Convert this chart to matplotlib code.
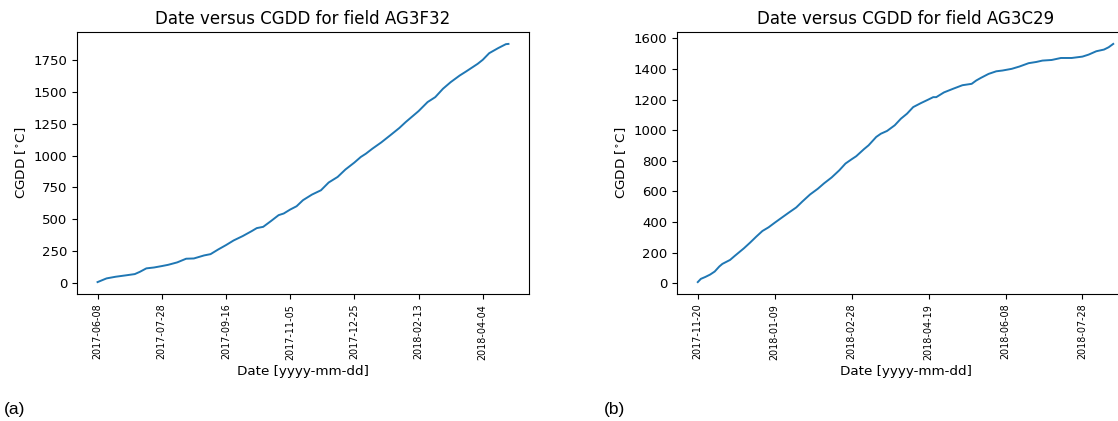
import numpy as np
import matplotlib
matplotlib.use("Agg")
import matplotlib.pyplot as plt
import matplotlib.dates as mdates

# ---- Field AG3F32 (left) ----
a_start = "2017-06-08"
a_days = [0, 7, 14, 22, 29, 33, 38, 44, 50, 55, 62, 69, 75, 83, 88, 94, 100,
          106, 113, 120, 124, 129, 135, 141, 145, 150, 155, 160, 167, 174, 180,
          187, 193, 200, 205, 209, 214, 221, 228, 235, 240, 250, 257, 263, 269,
          275, 282, 287, 296, 300, 305, 312, 318, 320]
a_cgdd = [5, 34, 47, 58, 68, 86, 113, 120, 131, 141, 160, 189, 191, 215, 225,
          262, 296, 333, 367, 406, 430, 440, 485, 532, 545, 576, 602, 650, 694,
          728, 789, 833, 891, 946, 990, 1016, 1055, 1105, 1161, 1218, 1265,
          1351, 1422, 1461, 1527, 1579, 1631, 1663, 1723, 1755, 1807, 1847,
          1878, 1880]
a_ticks = ["2017-06-08", "2017-07-28", "2017-09-16", "2017-11-05",
           "2017-12-25", "2018-02-13", "2018-04-04"]

# ---- Field AG3C29 (right) ----
b_start = "2017-11-20"
b_days = [0, 2, 5, 8, 11, 14, 16, 21, 24, 30, 34, 38, 42, 46, 50, 54, 59, 64,
          68, 73, 78, 82, 87, 92, 96, 100, 103, 108, 111, 116, 119, 123, 128,
          132, 136, 140, 145, 150, 153, 155, 160, 166, 172, 178, 181, 184, 189,
          194, 198, 204, 209, 215, 220, 224, 230, 236, 243, 250, 254, 259, 264,
          267, 270]
b_cgdd = [7, 28, 41, 56, 76, 109, 126, 152, 178, 228, 265, 304, 341, 365, 395,
          424, 460, 495, 534, 580, 617, 652, 691, 738, 782, 810, 830, 876, 901,
          956, 977, 995, 1032, 1075, 1108, 1151, 1177, 1201, 1216, 1216, 1247,
          1271, 1294, 1303, 1325, 1342, 1368, 1385, 1390, 1401, 1416, 1438,
          1446, 1455, 1459, 1472, 1472, 1481, 1494, 1516, 1527, 1542, 1564]
b_ticks = ["2017-11-20", "2018-01-09", "2018-02-28", "2018-04-19",
           "2018-06-08", "2018-07-28"]

titles = ["Date versus CGDD for field AG3F32", "Date versus CGDD for field AG3C29"]
panel_labels = ["(a)", "(b)"]

W, H = 1118, 421
fig = plt.figure(figsize=(W / 100, H / 100), dpi=100)

axes_rects = [
    (77 / W, (H - 294) / H, 452 / W, 262 / H),
    (677 / W, (H - 294) / H, 457 / W, 262 / H),
]
series = [(a_start, a_days, a_cgdd, a_ticks), (b_start, b_days, b_cgdd, b_ticks)]
label_x = [4 / W, 604 / W]

for i, (start, days, vals, ticks) in enumerate(series):
    ax = fig.add_axes(axes_rects[i])
    dates = np.datetime64(start) + np.array(days).astype("timedelta64[D]")
    ax.plot(dates.astype("datetime64[D]").astype(object), vals,
            color="#1f77b4", linewidth=1.4)
    ax.set_xticks([np.datetime64(t).astype(object) for t in ticks])
    ax.xaxis.set_major_formatter(mdates.DateFormatter("%Y-%m-%d"))
    ax.tick_params(axis="x", labelrotation=90, labelsize=6.9)
    ax.tick_params(axis="y", labelsize=9.5)
    ax.set_xlabel("Date [yyyy-mm-dd]", fontsize=9.7)
    ax.set_ylabel("CGDD [$^{\\circ}$C]", fontsize=9.7)
    ax.set_title(titles[i], fontsize=12)
    fig.text(label_x[i], (H - 414) / H, panel_labels[i], fontsize=12.5,
             family="Liberation Sans", ha="left", va="baseline")

fig.savefig("out.png", dpi=100)
